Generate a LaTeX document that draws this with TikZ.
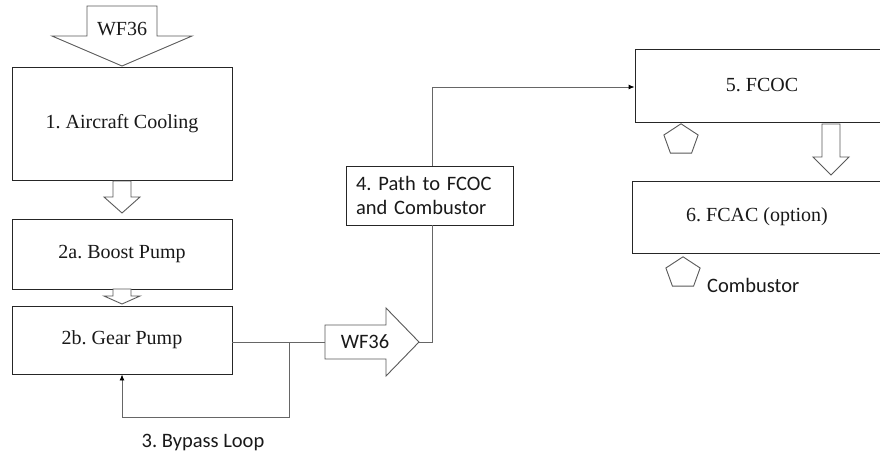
\documentclass[tikz,border=0pt]{standalone}
\usepackage{fontspec}
\setmainfont{Liberation Serif}
\newfontfamily\calibrifont{Carlito}
\usetikzlibrary{shapes.geometric,arrows.meta}
\frenchspacing
\begin{document}
\begin{tikzpicture}[x=1pt,y=-1pt,
  box/.style={draw=black!85, line width=0.9pt, fill=white, inner sep=0pt,
              text=black!90, font=\fontsize{20}{24}\selectfont},
  sans/.style={text=black!90, font=\calibrifont\fontsize{20.5}{24}\selectfont},
  fat/.style={draw=black!65, line width=0.9pt, fill=white, line join=miter},
  wire/.style={draw=black!60, line width=0.9pt},
  tip/.style={-{Latex[length=6pt,width=5pt,color=black]}},
  pent/.style={draw=black!65, line width=0.9pt, regular polygon,
               regular polygon sides=5, minimum size=36pt, inner sep=0pt,
               yscale=0.9}]
\clip (0,0) rectangle (880,455);
\fill[white] (0,0) rectangle (880,455);

% process boxes
\node[box, minimum width=220pt, minimum height=113pt] (cool)  at (122,123.5) {1. Aircraft Cooling};
\node[box, minimum width=220pt, minimum height=70pt]  (boost) at (122,254)   {2a. Boost Pump};
\node[box, minimum width=220pt, minimum height=68pt]  (gear)  at (122,340)   {2b. Gear Pump};
\node[box, minimum width=254pt, minimum height=73pt]  (fcoc)  at (762,85.5)  {5. FCOC};
\node[box, minimum width=250pt, minimum height=72pt]  (fcac)  at (757,217)   {6. FCAC (option)};
\node[box, sans, text width=147pt, inner xsep=10pt, minimum height=59pt, align=left]
      (path) at (429.5,195.5) {4. Path to FCOC\\and Combustor};

% fuel inlet block arrow
\draw[fat] (87,6) -- (157,6) -- (157,36) -- (192,36) -- (122,66) -- (52,36) -- (87,36) -- cycle;
\node[text=black!90, font=\fontsize{20}{24}\selectfont] (wfin) at (122,29) {WF36};

% hollow arrows between stages
\draw[fat] (113,181) -- (131,181) -- (131,197) -- (140,197) -- (122,213) -- (104,197) -- (113,197) -- cycle;
\draw[fat] (113,289) -- (131,289) -- (131,296) -- (140,296) -- (122,304) -- (104,296) -- (113,296) -- cycle;
\draw[fat] (822,124) -- (840,124) -- (840,157) -- (849,157) -- (831,175) -- (813,157) -- (822,157) -- cycle;

% pump outlet block arrow
\coordinate (wtail) at (325,342);
\coordinate (wtip)  at (419,342);
\draw[fat] (325,325) -- (386,325) -- (386,308) -- (wtip) -- (386,376) -- (386,359) -- (325,359) -- cycle;
\node[sans] (wfout) at (365,342) {WF36};

% connectors
\coordinate (jn)    at (289,342);
\coordinate (loop)  at (289,417);
\coordinate (riser) at (432,87);
\draw[wire] (gear.east |- wtail) -- (wtail);
\draw[wire, tip] (jn) -- (loop) -| (gear.south);
\draw[wire] (wtip) -| (riser |- path.south);
\draw[wire, tip] (riser |- path.north) -- (riser) -- (riser -| fcoc.west);

% combustor markers
\node[pent] (pa) at (681,140) {};
\node[pent] (pb) at (683,273) {};
\node[sans, anchor=west, inner sep=0pt] (comb) at (707,285) {Combustor};

\node[sans] (bypass) at (203,442) {3. Bypass Loop};
\end{tikzpicture}
\end{document}
